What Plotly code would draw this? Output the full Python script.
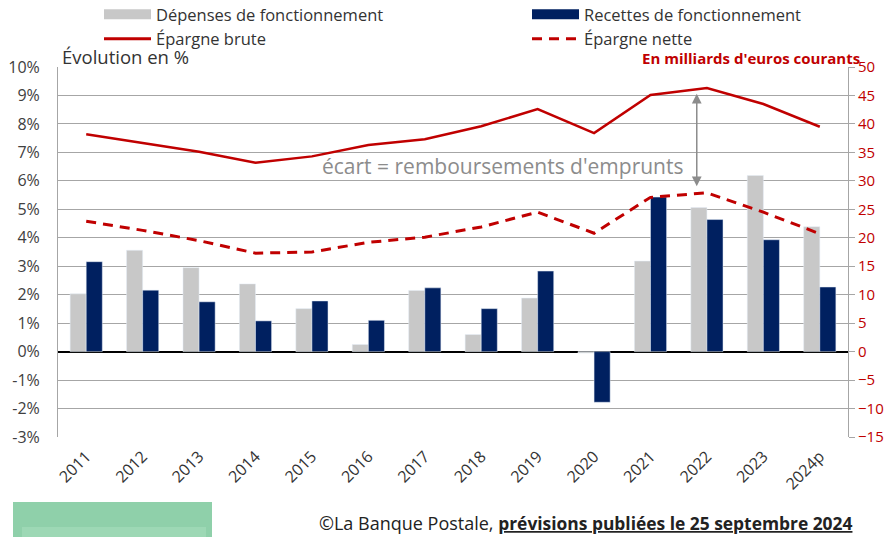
import plotly.graph_objects as go

years = ["2011", "2012", "2013", "2014", "2015", "2016", "2017", "2018", "2019", "2020", "2021", "2022", "2023", "2024p"]
depenses = [2.03, 3.56, 2.95, 2.38, 1.51, 0.25, 2.15, 0.60, 1.88, -0.05, 3.18, 5.06, 6.19, 4.39]
recettes = [3.16, 2.16, 1.75, 1.08, 1.78, 1.10, 2.24, 1.51, 2.83, -1.78, 5.43, 4.64, 3.93, 2.27]
epargne_brute = [38.2, 36.7, 35.1, 33.2, 34.3, 36.3, 37.3, 39.6, 42.6, 38.4, 45.1, 46.3, 43.5, 39.5]
epargne_nette = [22.9, 21.3, 19.5, 17.3, 17.5, 19.2, 20.1, 21.9, 24.5, 20.8, 27.1, 27.9, 24.5, 20.7]
left_ticks = list(range(-3, 11))
right_ticks = list(range(-15, 51, 5))

GREY = "#c8c8c8"
NAVY = "#002060"
RED = "#c00000"
FONT = "Open Sans"

W, H = 891, 537
L, R, T, B = 58, 43, 67, 100
PW, PH = W - L - R, H - T - B


def px(x):
    return (x - L) / PW


def py(y):
    return (H - B - y) / PH


fig = go.Figure()
fig.add_trace(go.Bar(x=years, y=depenses, marker_color=GREY, name="Dépenses de fonctionnement",
                     showlegend=False, yaxis="y"))
fig.add_trace(go.Bar(x=years, y=recettes, marker_color=NAVY, name="Recettes de fonctionnement",
                     showlegend=False, yaxis="y"))
fig.add_trace(go.Scatter(x=years, y=epargne_brute, mode="lines", line=dict(color=RED, width=2.5),
                         name="Épargne brute", yaxis="y2", showlegend=False))
fig.add_trace(go.Scatter(x=years, y=epargne_nette, mode="lines", line=dict(color=RED, width=3, dash="10px,7px"),
                         name="Épargne nette", yaxis="y2", showlegend=False))

# legend entries: two vertical legends side by side
fig.add_trace(go.Scatter(x=[None], y=[None], mode="lines", line=dict(color=GREY, width=12),
                         name="Dépenses de fonctionnement", yaxis="y2", legend="legend"))
fig.add_trace(go.Scatter(x=[None], y=[None], mode="lines", line=dict(color=RED, width=3),
                         name="Épargne brute", yaxis="y2", legend="legend"))
fig.add_trace(go.Scatter(x=[None], y=[None], mode="lines", line=dict(color=NAVY, width=12),
                         name="Recettes de fonctionnement", yaxis="y2", legend="legend2"))
fig.add_trace(go.Scatter(x=[None], y=[None], mode="lines", line=dict(color=RED, width=3, dash="10px,7px"),
                         name="Épargne nette", yaxis="y2", legend="legend2"))

legend_common = dict(orientation="v", yanchor="top", xanchor="left", font=dict(size=16.5, color="#333333"),
                     bgcolor="rgba(0,0,0,0)", tracegroupgap=0, itemwidth=47, traceorder="normal")

fig.update_layout(
    width=W, height=H,
    margin=dict(l=L, r=R, t=T, b=B, autoexpand=False),
    paper_bgcolor="white", plot_bgcolor="white",
    font=dict(family=FONT, color="#333333", size=15),
    barmode="group", bargap=0.43, bargroupgap=0,
    legend=dict(x=px(99), y=py(-3), **legend_common),
    legend2=dict(x=px(527), y=py(-3), **legend_common),
    xaxis=dict(type="category", categoryorder="array", categoryarray=years,
               tickangle=-45, tickfont=dict(size=16, color="#333333"), showgrid=False,
               showline=False, ticks="", ticklabelstandoff=6),
    yaxis=dict(range=[-3, 10], tickvals=left_ticks, ticktext=[f"{v}%" for v in left_ticks],
               showgrid=True, gridcolor="#a6a6a6", gridwidth=1,
               zeroline=True, zerolinecolor="#000000", zerolinewidth=2,
               showline=True, linecolor="#a6a6a6", linewidth=1,
               tickfont=dict(size=16, color="#404040"), ticks="", ticklabelstandoff=14),
    yaxis2=dict(range=[-15, 50], tickvals=right_ticks, overlaying="y", side="right",
                showgrid=False, zeroline=False, showline=True, linecolor="#a6a6a6", linewidth=1,
                ticks="outside", ticklen=6, tickcolor="#a6a6a6",
                tickfont=dict(size=15, color=RED, family=FONT),
                tickprefix="<b>", ticksuffix="</b>"),
    annotations=[
        dict(x=10.82, y=45.3, xref="x", yref="y2", ax=10.82, ay=28.8, axref="x", ayref="y2",
             text="", showarrow=True, arrowhead=2, startarrowhead=2, arrowside="end+start",
             arrowcolor="#8c8c8c", arrowwidth=1.5, arrowsize=1.3, startarrowsize=1.3),
        dict(x=7.39, y=32.6, xref="x", yref="y2", text="écart = remboursements d'emprunts",
             showarrow=False, font=dict(size=21, color="#8c8c8c")),
        dict(x=px(60), y=py(56), xref="paper", yref="paper", xanchor="left", yanchor="middle",
             text="Évolution en %", showarrow=False, font=dict(size=18.5, color="#333333")),
        dict(x=px(862), y=py(58), xref="paper", yref="paper", xanchor="right", yanchor="middle",
             text="<b>En milliards d'euros courants</b>", showarrow=False,
             font=dict(size=15, color=RED)),
        dict(x=px(855), y=py(523), xref="paper", yref="paper", xanchor="right", yanchor="middle",
             text="©La Banque Postale, <b><u><span style='font-size:17.4px'>prévisions publiées le 25 septembre 2024</span></u></b>",
             showarrow=False, font=dict(size=18, color="#222222")),
    ],
    shapes=[
        dict(type="rect", xref="paper", yref="paper", x0=px(13), x1=px(212), y0=py(537), y1=py(502),
             fillcolor="#8fd0aa", line=dict(width=0), layer="above"),
        dict(type="rect", xref="paper", yref="paper", x0=px(22), x1=px(206), y0=py(537), y1=py(527),
             fillcolor="#9dd8b5", line=dict(width=0), layer="above"),
    ],
)

fig.write_html("out.html", config={"displayModeBar": False},
               post_script="document.body.style.margin='0';document.body.style.overflow='hidden';")
